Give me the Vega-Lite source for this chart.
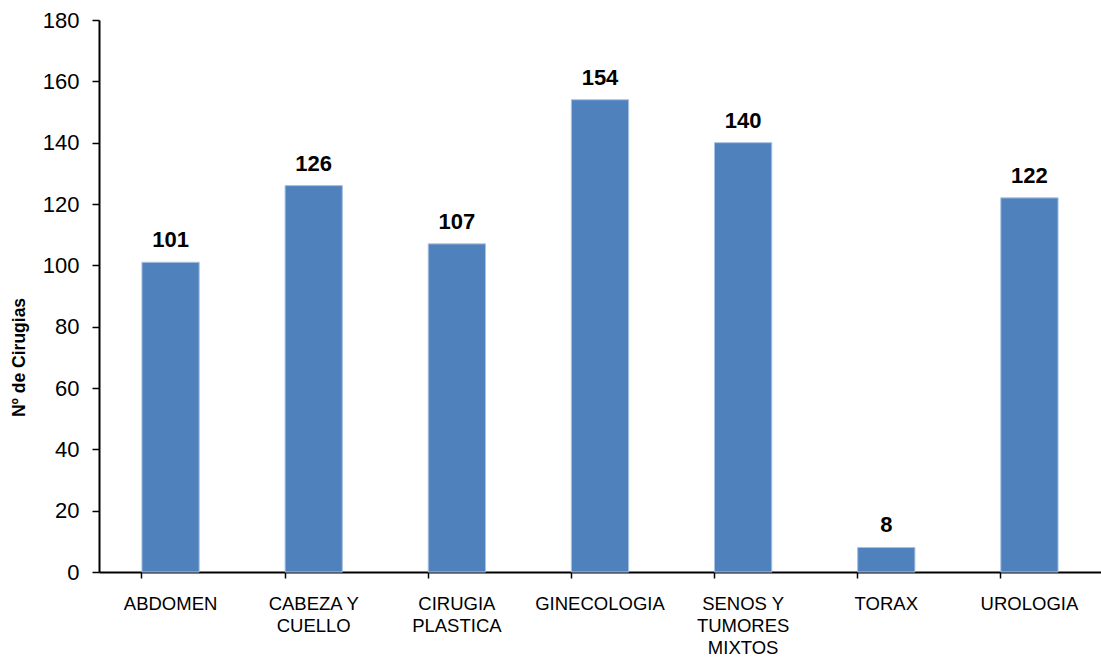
{
  "$schema": "https://vega.github.io/schema/vega-lite/v6.json",
  "width": 1002,
  "height": 552,
  "autosize": {"type": "none"},
  "padding": {"left": 99, "top": 20, "right": 0, "bottom": 85},
  "background": "white",
  "config": {
    "view": {"stroke": null},
    "font": "Liberation Sans"
  },
  "data": {
    "values": [
      {"especialidad": "ABDOMEN", "cirugias": 101},
      {"especialidad": "CABEZA Y CUELLO", "cirugias": 126},
      {"especialidad": "CIRUGIA PLASTICA", "cirugias": 107},
      {"especialidad": "GINECOLOGIA", "cirugias": 154},
      {"especialidad": "SENOS Y TUMORES MIXTOS", "cirugias": 140},
      {"especialidad": "TORAX", "cirugias": 8},
      {"especialidad": "UROLOGIA", "cirugias": 122}
    ]
  },
  "encoding": {
    "x": {
      "field": "especialidad",
      "type": "nominal",
      "sort": null,
      "scale": {"paddingInner": 0.6, "paddingOuter": 0.3},
      "axis": {
        "title": null,
        "labelAngle": 0,
        "labelFont": "Liberation Sans",
        "labelFontSize": 18.5,
        "labelColor": "black",
        "labelBaseline": "top",
        "labelLineHeight": 22,
        "labelPadding": 16,
        "labelExpr": "datum.value == 'CABEZA Y CUELLO' ? ['CABEZA Y', 'CUELLO'] : datum.value == 'CIRUGIA PLASTICA' ? ['CIRUGIA', 'PLASTICA'] : datum.value == 'SENOS Y TUMORES MIXTOS' ? ['SENOS Y', 'TUMORES', 'MIXTOS'] : datum.value",
        "domainColor": "black",
        "domainWidth": 2,
        "tickColor": "black",
        "tickWidth": 1.5,
        "tickSize": 6,
        "bandPosition": 0
      }
    },
    "y": {
      "field": "cirugias",
      "type": "quantitative",
      "scale": {"domain": [0, 180], "nice": false},
      "axis": {
        "title": "Nº de Cirugias",
        "titleFont": "Liberation Sans",
        "titleFontSize": 17.5,
        "titleFontWeight": "bold",
        "titleColor": "black",
        "titleAngle": -90,
        "titleAlign": "center",
        "titleBaseline": "middle",
        "titleX": -80,
        "titleY": 337,
        "values": [0, 20, 40, 60, 80, 100, 120, 140, 160, 180],
        "grid": false,
        "labelFont": "Liberation Sans",
        "labelFontSize": 22,
        "labelColor": "black",
        "labelPadding": 13,
        "domainColor": "black",
        "domainWidth": 2,
        "tickColor": "black",
        "tickWidth": 1.5,
        "tickSize": 7
      }
    }
  },
  "layer": [
    {
      "mark": {"type": "bar", "color": "#4F81BD", "stroke": "#A9C2E2", "strokeWidth": 1}
    },
    {
      "mark": {"type": "text", "baseline": "alphabetic", "dy": -15, "fontSize": 22, "fontWeight": "bold", "font": "Liberation Sans", "color": "black"},
      "encoding": {"text": {"field": "cirugias", "type": "quantitative"}}
    }
  ]
}
